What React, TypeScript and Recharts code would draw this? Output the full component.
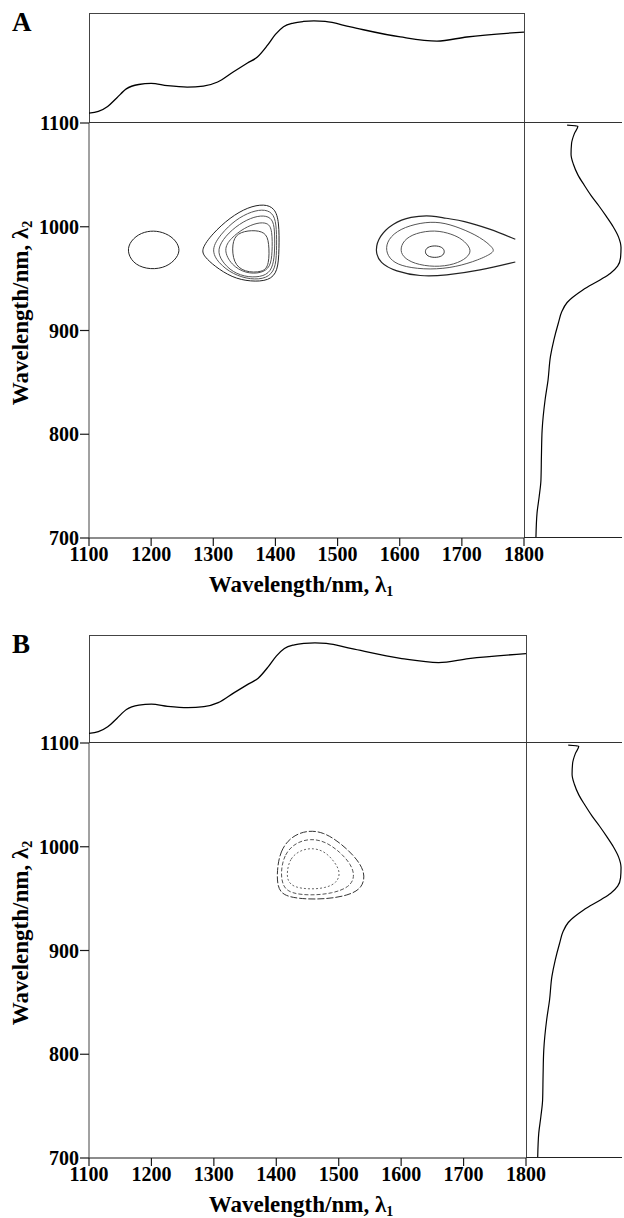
import React from 'react';
import { ComposedChart, LineChart, Line, Scatter, XAxis, YAxis } from 'recharts';

const FONT = '"Liberation Serif", "Times New Roman", serif';
const INK = '#1a1a1a';

const lambda1Ticks = [1100, 1200, 1300, 1400, 1500, 1600, 1700, 1800];
const lambda2Ticks = [700, 800, 900, 1000, 1100];

// mean spectrum along λ1 (top strip), relative units
const topWavelength = [1100, 1115, 1130, 1145, 1160, 1180, 1200, 1226, 1258, 1284, 1307, 1332, 1355, 1371, 1387, 1400, 1413, 1429, 1445, 1462, 1480, 1521, 1601, 1660, 1708, 1800];
const topAbsorbance = [9, 10.5, 15, 23, 31, 35, 36, 34, 32.7, 33.6, 37.3, 46.4, 54.5, 60, 70.5, 80.5, 87.5, 90.9, 92.3, 92.8, 92.3, 87.3, 78.2, 74.5, 78.2, 82.7];

// mean spectrum along λ2 (right strip), relative units
const sideWavelength = [1098, 1097, 1090, 1080, 1070, 1060, 1050, 1040, 1030, 1020, 1010, 1000, 990, 980, 970, 962, 955, 949, 939, 927, 918, 907, 891, 875, 852, 833, 804, 780, 756, 740, 724, 701];
const sideAbsorbance = [44, 55, 51.5, 48.5, 48, 50.5, 55, 61.5, 68.5, 76.5, 84, 91, 96.5, 99, 98.5, 95.5, 88, 78, 60, 44, 38.5, 35, 30.5, 27, 24.5, 21.5, 18.5, 17.8, 17.3, 15.5, 13.3, 12.2];

// contour levels, [λ1, λ2] pairs — panel A
const a1200 = [[1247, 979], [1237, 989], [1219, 995], [1199, 996.5], [1179, 993], [1164, 984], [1162, 974], [1174, 963], [1199, 958.5], [1225, 961], [1242, 970]];
const a1360L1 = [[1280, 978], [1298, 993], [1327, 1009], [1356, 1019], [1382, 1022], [1399, 1018], [1406, 1005], [1406, 978], [1404, 957], [1390, 948], [1360, 947], [1330, 951], [1302, 962], [1286, 971]];
const a1360L2 = [[1296, 978], [1312, 993], [1336, 1007], [1362, 1015], [1384, 1017], [1398, 1012], [1402, 999], [1402, 976], [1400, 959], [1386, 950], [1360, 949], [1332, 954], [1308, 965]];
const a1360L3 = [[1306, 978], [1319, 991], [1342, 1003], [1366, 1010], [1386, 1011], [1397, 1006], [1399, 993], [1399, 974], [1395, 959], [1382, 952], [1356, 951], [1331, 956], [1313, 967]];
const a1360L4 = [[1316, 978], [1328, 989], [1350, 999], [1371, 1004], [1388, 1004], [1395, 997], [1395, 975], [1392, 961], [1377, 955], [1352, 955], [1329, 963]];
const a1360L5 = [[1330, 984], [1338, 994], [1362, 997], [1384, 995], [1390, 985], [1390, 963], [1380, 956], [1350, 956], [1332, 965]];
const a1650L1 = [[1786, 988], [1745, 998], [1702, 1006], [1673, 1008], [1654, 1011], [1617, 1010], [1588, 1003], [1567, 991], [1560, 977], [1568, 965], [1593, 957], [1633, 952], [1673, 953], [1729, 958], [1786, 966]];
const a1650L2 = [[1752, 979], [1730, 990], [1697, 999], [1665, 1005], [1633, 1004], [1600, 998], [1581, 988], [1577, 977], [1586, 967], [1608, 961], [1649, 958.5], [1690, 961], [1727, 968], [1751, 975]];
const a1650L3 = [[1715, 979], [1701, 988], [1684, 993], [1657, 997], [1625, 994], [1606, 987], [1600, 977], [1608, 969], [1630, 963], [1665, 961], [1695, 965], [1712, 972]];
const a1650L4 = [[1640, 982], [1673, 982], [1673, 970], [1640, 970]];

// contour levels — panel B
const b1460L1 = [[1401, 976], [1406, 996], [1424, 1010], [1450, 1016], [1476, 1014], [1502, 1004], [1527, 990], [1543, 975], [1538, 960], [1515, 953], [1480, 949.5], [1440, 949.5], [1410, 953], [1402, 962]];
const b1460L2 = [[1407, 976], [1413, 993], [1431, 1004], [1455, 1008], [1479, 1005], [1502, 995], [1520, 983], [1526, 971], [1517, 961], [1490, 955], [1455, 953], [1423, 955], [1410, 962]];
const b1460L3 = [[1417, 976], [1422, 989], [1439, 997], [1460, 999], [1479, 995], [1494, 985], [1503, 975], [1497, 965], [1478, 960], [1452, 959], [1428, 961], [1418, 967]];

const toPoints = (pairs: number[][]) => pairs.map(([x, y]) => ({ x, y }));
const topData = topWavelength.map((wl, i) => ({ wl, v: topAbsorbance[i] }));
const sideData = sideWavelength.map((wl, i) => ({ v: sideAbsorbance[i], wl }));

type Contour = { pts: number[][]; closed: boolean; stroke: string; dash?: string; width?: number };

const contoursA: Contour[] = [
  { pts: a1200, closed: true, stroke: '#222' },
  { pts: a1360L1, closed: true, stroke: '#222' },
  { pts: a1360L2, closed: true, stroke: '#555' },
  { pts: a1360L3, closed: true, stroke: '#555' },
  { pts: a1360L4, closed: true, stroke: '#555' },
  { pts: a1360L5, closed: true, stroke: '#444' },
  { pts: a1650L1, closed: false, stroke: '#222', width: 1.2 },
  { pts: a1650L2, closed: true, stroke: '#555' },
  { pts: a1650L3, closed: true, stroke: '#555' },
  { pts: a1650L4, closed: true, stroke: '#333' },
];

const contoursB: Contour[] = [
  { pts: b1460L1, closed: true, stroke: '#333', dash: '7 2' },
  { pts: b1460L2, closed: true, stroke: '#555', dash: '4 2' },
  { pts: b1460L3, closed: true, stroke: '#666', dash: '2 2' },
];

const noDot = () => <g />;
const tickStyle = { fontSize: 20, fontWeight: 'bold', fill: '#000', fontFamily: FONT };
const axisStroke = { stroke: INK, strokeWidth: 1.2 };
const titleStyle: React.CSSProperties = { position: 'absolute', whiteSpace: 'nowrap', fontFamily: FONT, fontWeight: 'bold', fontSize: 23, lineHeight: '26px' };
const subStyle: React.CSSProperties = { fontSize: 14, verticalAlign: 'baseline', position: 'relative', top: 4 };

function Panel({ letter, stripTop, axisTop, axisBottom, right, contours }: {
  letter: string; stripTop: number; axisTop: number; axisBottom: number; right: number; contours: Contour[];
}) {
  const plotH = axisBottom - axisTop;
  const stripH = axisTop - stripTop;
  const sideW = 622 - right;
  const frame = '1px solid #444';
  return (
    <>
      <div style={{ position: 'absolute', left: 12, top: stripTop - 6, fontFamily: FONT, fontWeight: 'bold', fontSize: 27, lineHeight: '30px' }}>{letter}</div>

      {/* frame of the side strips */}
      <div style={{ position: 'absolute', left: 88.5, top: stripTop - 0.5, width: right - 88.5, height: stripH, borderTop: frame, borderLeft: frame, boxSizing: 'border-box' }} />
      <div style={{ position: 'absolute', left: right - 0.5, top: stripTop - 0.5, width: 0, height: axisBottom - stripTop, borderLeft: frame }} />
      <div style={{ position: 'absolute', left: 89, top: axisTop - 0.6, width: 622 - 89, height: 0, borderTop: '1.2px solid #333' }} />
      <div style={{ position: 'absolute', left: right, top: axisBottom - 0.6, width: sideW, height: 0, borderTop: '1.2px solid #222' }} />

      {/* top strip */}
      <div style={{ position: 'absolute', left: 0, top: stripTop }}>
        <LineChart width={right} height={stripH} data={topData} margin={{ top: 0, right: 0, bottom: 0, left: 89 }}>
          <XAxis dataKey="wl" type="number" domain={[1100, 1800]} hide />
          <YAxis type="number" domain={[0, 100]} hide />
          <Line dataKey="v" type="monotone" stroke="#000" strokeWidth={1.3} dot={false} isAnimationActive={false} />
        </LineChart>
      </div>

      {/* contour map */}
      <div style={{ position: 'absolute', left: 0, top: axisTop - 10 }}>
        <ComposedChart width={right + 30} height={plotH + 50} margin={{ top: 10, right: 30, bottom: 0, left: 0 }}>
          <XAxis dataKey="x" type="number" domain={[1100, 1800]} ticks={lambda1Ticks} interval={0} height={40}
            tick={tickStyle} tickSize={8} tickMargin={1} tickLine={axisStroke} axisLine={axisStroke} allowDataOverflow />
          <YAxis dataKey="y" type="number" domain={[700, 1100]} ticks={lambda2Ticks} interval={0} width={89}
            tick={tickStyle} tickSize={9} tickMargin={1} tickLine={axisStroke} axisLine={{ stroke: '#444', strokeWidth: 1 }} allowDataOverflow />
          {contours.map((c, i) => (
            <Scatter key={i} data={toPoints(c.pts)} shape={noDot} fill="none" isAnimationActive={false}
              line={{ stroke: c.stroke, strokeWidth: c.width ?? 1, strokeDasharray: c.dash }}
              lineType="joint" lineJointType={c.closed ? 'basisClosed' : 'basis'} />
          ))}
        </ComposedChart>
      </div>

      {/* right strip */}
      <div style={{ position: 'absolute', left: right, top: axisTop }}>
        <ComposedChart width={sideW} height={plotH} margin={{ top: 0, right: 0, bottom: 0, left: 0 }}>
          <XAxis dataKey="v" type="number" domain={[0, 100]} hide />
          <YAxis dataKey="wl" type="number" domain={[700, 1100]} hide />
          <Scatter data={sideData} shape={noDot} fill="none" isAnimationActive={false}
            line={{ stroke: '#000', strokeWidth: 1.2 }} lineType="joint" lineJointType="monotoneY" />
        </ComposedChart>
      </div>

      {/* axis titles */}
      <div style={{ ...titleStyle, left: 301, top: axisBottom + 34, transform: 'translateX(-50%)' }}>
        Wavelength/nm, λ<sub style={subStyle}>1</sub>
      </div>
      <div style={{ ...titleStyle, left: 22, top: axisTop + 190, transform: 'translate(-50%, -50%) rotate(-90deg)' }}>
        Wavelength/nm, λ<sub style={subStyle}>2</sub>
      </div>
    </>
  );
}

export default function App() {
  return (
    <div style={{ position: 'absolute', left: 0, top: 0, width: 624, height: 1218, background: '#fff' }}>
      <Panel letter="A" stripTop={13} axisTop={123} axisBottom={538} right={524} contours={contoursA} />
      <Panel letter="B" stripTop={635} axisTop={743} axisBottom={1158} right={526} contours={contoursB} />
    </div>
  );
}
